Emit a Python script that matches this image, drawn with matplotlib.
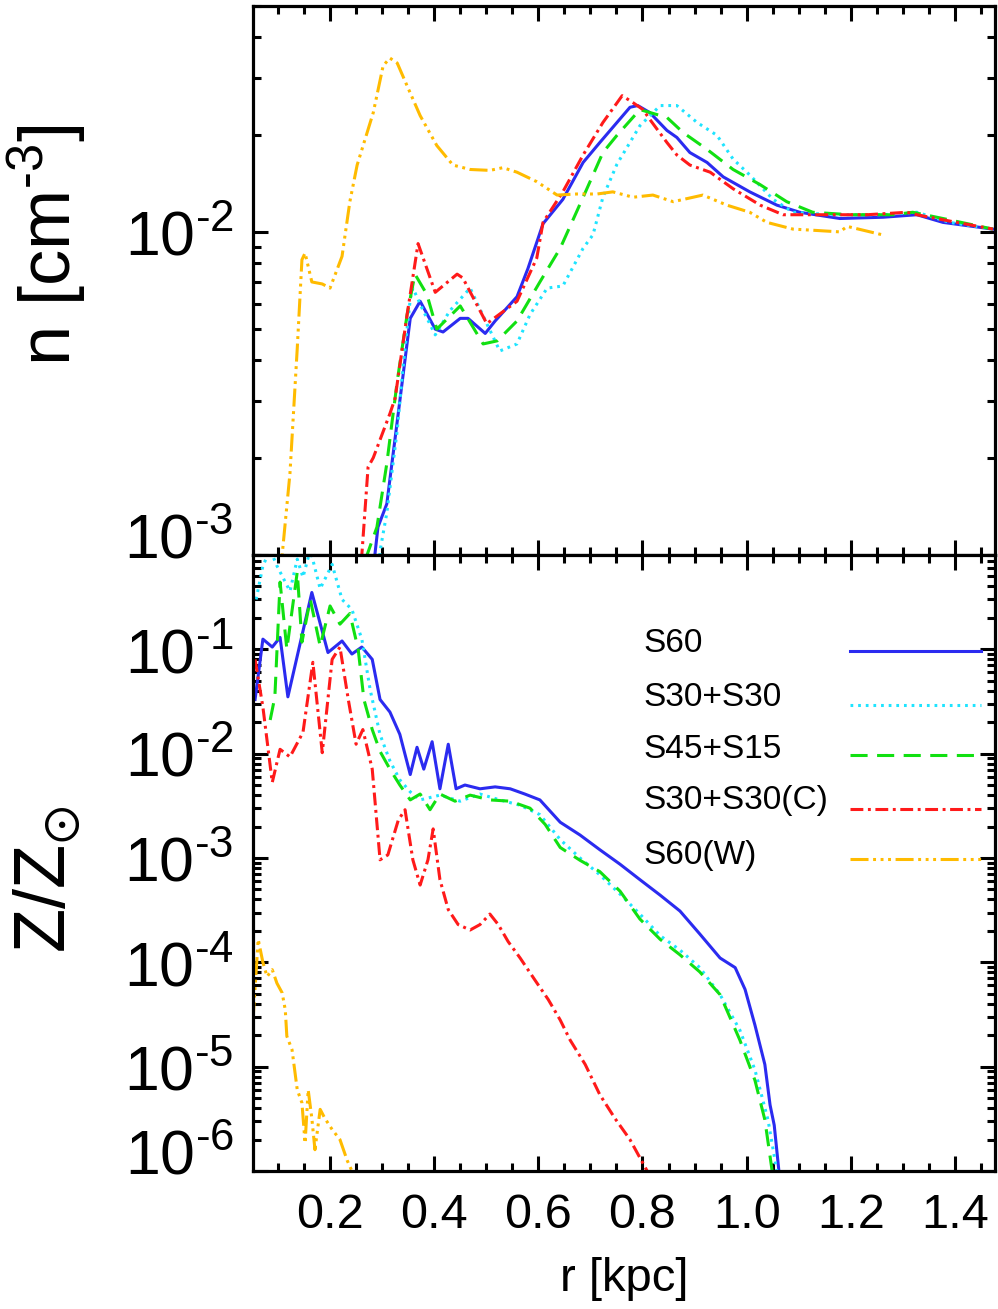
import numpy as np
import matplotlib
matplotlib.use('Agg')
import matplotlib.pyplot as plt
import matplotlib.transforms as mtransforms
from matplotlib.ticker import MultipleLocator, LogLocator, FuncFormatter, NullFormatter

plt.rcParams['font.family'] = ['Liberation Sans', 'DejaVu Sans']
plt.rcParams['mathtext.default'] = 'regular'

HY = '\u2010'  # short hyphen, like the original exponents

# ---- data ----
names = ['S60', 'S30+S30', 'S45+S15', 'S30+S30(C)', 'S60(W)']

# top panel: density profiles
r_n_s60 = [0.283, 0.286, 0.292, 0.309, 0.354, 0.373, 0.402, 0.417, 0.450, 0.465, 0.498, 0.517,
           0.559, 0.580, 0.609, 0.647, 0.686, 0.718, 0.776, 0.791, 0.814, 0.847, 0.866, 0.891,
           0.924, 0.955, 1.006, 1.058, 1.102, 1.179, 1.262, 1.327, 1.377, 1.473]
n_s60 = [8e-4, 1.0e-3, 1.22e-3, 1.44e-3, 5.4e-3, 6.1e-3, 5.0e-3, 4.9e-3, 5.4e-3, 5.4e-3, 4.85e-3, 5.3e-3,
         6.3e-3, 7.7e-3, 1.06e-2, 1.26e-2, 1.64e-2, 1.89e-2, 2.43e-2, 2.46e-2, 2.34e-2, 2.06e-2, 1.96e-2, 1.76e-2,
         1.64e-2, 1.48e-2, 1.33e-2, 1.21e-2, 1.15e-2, 1.10e-2, 1.11e-2, 1.13e-2, 1.07e-2, 1.02e-2]

r_n_s3030 = [0.292, 0.296, 0.309, 0.329, 0.340, 0.354, 0.359, 0.379, 0.402, 0.430, 0.469, 0.501, 0.526,
             0.559, 0.584, 0.617, 0.647, 0.686, 0.705, 0.724, 0.751, 0.795, 0.834, 0.866, 0.905, 0.943,
             0.974, 1.006, 1.051, 1.089, 1.166, 1.262, 1.327, 1.390, 1.473]
n_s3030 = [8e-4, 1.03e-3, 1.35e-3, 2.43e-3, 3.79e-3, 6.2e-3, 6.7e-3, 5.7e-3, 4.8e-3, 5.7e-3, 6.7e-3, 5.2e-3, 4.28e-3,
           4.5e-3, 5.55e-3, 6.7e-3, 6.8e-3, 8.9e-3, 9.8e-3, 1.28e-2, 1.62e-2, 2.13e-2, 2.46e-2, 2.46e-2, 2.18e-2, 1.99e-2,
           1.68e-2, 1.50e-2, 1.26e-2, 1.15e-2, 1.13e-2, 1.13e-2, 1.15e-2, 1.07e-2, 1.02e-2]

r_n_s4515 = [0.267, 0.271, 0.290, 0.309, 0.329, 0.348, 0.363, 0.386, 0.405, 0.450, 0.494, 0.521, 0.559,
             0.603, 0.642, 0.686, 0.724, 0.751, 0.795, 0.847, 0.878, 0.924, 0.974, 1.026, 1.077, 1.127,
             1.198, 1.281, 1.319, 1.377, 1.473]
n_s4515 = [8e-4, 1.0e-3, 1.22e-3, 1.92e-3, 3.45e-3, 5.55e-3, 7.4e-3, 6.4e-3, 5.0e-3, 5.9e-3, 4.5e-3, 4.6e-3, 5.3e-3,
           7.0e-3, 8.9e-3, 1.28e-2, 1.76e-2, 1.99e-2, 2.39e-2, 2.26e-2, 2.03e-2, 1.80e-2, 1.56e-2, 1.40e-2, 1.24e-2, 1.15e-2,
           1.13e-2, 1.13e-2, 1.15e-2, 1.10e-2, 1.02e-2]

r_n_s3030c = [0.258, 0.261, 0.273, 0.283, 0.315, 0.325, 0.348, 0.369, 0.402, 0.444, 0.455, 0.501, 0.559,
              0.597, 0.609, 0.647, 0.686, 0.724, 0.761, 0.782, 0.801, 0.814, 0.847, 0.866, 0.891, 0.930,
              0.974, 1.026, 1.070, 1.135, 1.231, 1.308, 1.327, 1.377, 1.473]
n_s3030c = [8e-4, 1.0e-3, 1.87e-3, 2.0e-3, 2.74e-3, 3.06e-3, 5.55e-3, 9.2e-3, 6.5e-3, 7.4e-3, 7.2e-3, 5.2e-3, 6.1e-3,
            8.3e-3, 1.07e-2, 1.33e-2, 1.73e-2, 2.18e-2, 2.64e-2, 2.51e-2, 2.39e-2, 2.23e-2, 1.89e-2, 1.73e-2, 1.61e-2, 1.53e-2,
            1.36e-2, 1.21e-2, 1.13e-2, 1.13e-2, 1.13e-2, 1.15e-2, 1.13e-2, 1.09e-2, 1.02e-2]

r_n_s60w = [0.105, 0.108, 0.123, 0.137, 0.146, 0.152, 0.165, 0.185, 0.200, 0.223, 0.238, 0.252, 0.283,
            0.302, 0.315, 0.329, 0.348, 0.373, 0.405, 0.436, 0.469, 0.507, 0.532, 0.559, 0.597, 0.636,
            0.674, 0.713, 0.743, 0.782, 0.820, 0.859, 0.916, 0.962, 1.006, 1.039, 1.089, 1.135, 1.179,
            1.193, 1.260]
n_s60w = [8e-4, 1.0e-3, 1.79e-3, 4.36e-3, 8.2e-3, 8.6e-3, 7.0e-3, 6.9e-3, 6.7e-3, 8.4e-3, 1.24e-2, 1.61e-2, 2.34e-2,
          3.27e-2, 3.45e-2, 3.33e-2, 2.83e-2, 2.29e-2, 1.85e-2, 1.61e-2, 1.56e-2, 1.55e-2, 1.58e-2, 1.53e-2, 1.43e-2, 1.30e-2,
          1.31e-2, 1.31e-2, 1.33e-2, 1.28e-2, 1.30e-2, 1.24e-2, 1.30e-2, 1.21e-2, 1.15e-2, 1.07e-2, 1.02e-2, 1.01e-2, 1.0e-2,
          1.04e-2, 9.8e-3]

# bottom panel: metallicity profiles
r_z_s60 = [0.056, 0.071, 0.089, 0.104, 0.119, 0.165, 0.196, 0.223, 0.242, 0.261, 0.281, 0.296, 0.315,
           0.334, 0.354, 0.367, 0.380, 0.396, 0.411, 0.427, 0.442, 0.459, 0.488, 0.517, 0.546, 0.574,
           0.603, 0.642, 0.680, 0.718, 0.757, 0.795, 0.834, 0.872, 0.910, 0.949, 0.978, 0.997, 1.016,
           1.035, 1.045, 1.053, 1.062, 1.066]
z_s60 = [0.033, 0.125, 0.105, 0.13, 0.035, 0.35, 0.093, 0.12, 0.09, 0.105, 0.08, 0.033, 0.025,
         0.0153, 0.0063, 0.0115, 0.0071, 0.013, 0.0046, 0.0123, 0.0046, 0.005, 0.0046, 0.0048, 0.0046, 0.0041,
         0.0036, 0.0022, 0.00166, 0.0012, 8.7e-4, 6.2e-4, 4.4e-4, 3.1e-4, 1.87e-4, 1.1e-4, 8.9e-5, 5.5e-5, 2.5e-5,
         1.05e-5, 4.3e-6, 2.75e-6, 1.0e-6, 7e-7]

r_z_s3030 = [0.058, 0.071, 0.085, 0.098, 0.123, 0.137, 0.148, 0.162, 0.181, 0.204, 0.223, 0.242, 0.261,
             0.277, 0.296, 0.315, 0.334, 0.354, 0.373, 0.411, 0.450, 0.488, 0.526, 0.565, 0.603, 0.642,
             0.680, 0.718, 0.757, 0.795, 0.834, 0.872, 0.910, 0.949, 0.987, 1.016, 1.041, 1.058, 1.062]
z_s3030 = [0.3, 0.63, 0.9, 0.63, 0.36, 0.73, 0.49, 0.9, 0.38, 0.65, 0.3, 0.24, 0.125,
           0.041, 0.0152, 0.0085, 0.0056, 0.0043, 0.0036, 0.004, 0.0035, 0.0041, 0.0036, 0.0032, 0.0026, 0.0015,
           0.001, 6.9e-4, 4.5e-4, 2.9e-4, 1.8e-4, 1.31e-4, 8.9e-5, 4.9e-5, 2.24e-5, 9.3e-6, 3.1e-6, 1.0e-6, 7e-7]

r_z_s4515 = [0.085, 0.094, 0.104, 0.117, 0.137, 0.146, 0.162, 0.181, 0.200, 0.219, 0.238, 0.254, 0.265,
             0.281, 0.296, 0.315, 0.334, 0.354, 0.373, 0.392, 0.411, 0.440, 0.469, 0.507, 0.546, 0.584,
             0.613, 0.642, 0.680, 0.718, 0.757, 0.795, 0.834, 0.872, 0.910, 0.949, 0.987, 1.016, 1.035,
             1.049, 1.052]
z_s4515 = [0.021, 0.035, 0.44, 0.1, 0.55, 0.117, 0.3, 0.107, 0.26, 0.174, 0.22, 0.1, 0.033,
           0.017, 0.0105, 0.0071, 0.005, 0.0036, 0.0041, 0.0029, 0.0041, 0.0035, 0.004, 0.0036, 0.0035, 0.003,
           0.0021, 0.00126, 9.5e-4, 7.4e-4, 4.8e-4, 2.6e-4, 1.66e-4, 1.18e-4, 8.1e-5, 4.9e-5, 1.8e-5, 7.4e-6, 3.1e-6,
           1.0e-6, 7e-7]

r_z_s3030c = [0.056, 0.071, 0.089, 0.104, 0.123, 0.148, 0.167, 0.185, 0.204, 0.219, 0.235, 0.250, 0.263,
              0.281, 0.296, 0.311, 0.331, 0.344, 0.359, 0.373, 0.388, 0.398, 0.411, 0.427, 0.446, 0.469,
              0.488, 0.507, 0.523, 0.542, 0.565, 0.594, 0.619, 0.642, 0.661, 0.690, 0.718, 0.747, 0.776,
              0.809, 0.812]
z_s3030c = [0.08, 0.028, 0.0053, 0.011, 0.0093, 0.016, 0.075, 0.0102, 0.08, 0.105, 0.033, 0.0123, 0.017,
            0.0071, 9.6e-4, 1.07e-3, 0.0023, 0.0029, 9.6e-4, 5.5e-4, 9.6e-4, 0.0019, 6.2e-4, 3.2e-4, 2.3e-4, 2.04e-4,
            2.3e-4, 2.9e-4, 2.3e-4, 1.58e-4, 1.1e-4, 6.7e-5, 4.4e-5, 2.8e-5, 1.8e-5, 1.05e-5, 5.4e-6, 3.2e-6, 2.0e-6,
            1.0e-6, 8e-7]

r_z_s60w = [0.052, 0.062, 0.071, 0.079, 0.089, 0.098, 0.108, 0.114, 0.117, 0.127, 0.137, 0.146, 0.152,
            0.158, 0.165, 0.171, 0.181, 0.190, 0.204, 0.219, 0.233, 0.242, 0.245]
z_s60w = [2.8e-5, 1.66e-4, 1.0e-4, 7.3e-5, 8.5e-5, 6.3e-5, 5.1e-5, 3.5e-5, 1.96e-5, 1.45e-5, 6e-6, 4.5e-6, 1.85e-6,
          6e-6, 3.2e-6, 1.6e-6, 3.9e-6, 3.2e-6, 2.5e-6, 2.0e-6, 1.26e-6, 1.0e-6, 8e-7]

top_curves = [(r_n_s60, n_s60), (r_n_s3030, n_s3030), (r_n_s4515, n_s4515),
              (r_n_s3030c, n_s3030c), (r_n_s60w, n_s60w)]
bot_curves = [(r_z_s60, z_s60), (r_z_s3030, z_s3030), (r_z_s4515, z_s4515),
              (r_z_s3030c, z_s3030c), (r_z_s60w, z_s60w)]

colors = ['#2b2bf0', '#1ee4ff', '#11e011', '#ff1a1a', '#ffbb00']
styles = ['-', (0, (0.9, 1.6)), (0, (5.6, 3.1)), (0, (4.2, 1.5, 0.95, 1.5)),
          (0, (5.9, 1.5, 0.95, 1.5, 0.95, 1.5, 0.95, 1.5))]
lw = 2.2

fig = plt.figure(figsize=(9.98, 13.09), dpi=100)
ax1 = fig.add_axes([0.2535, 0.5760, 0.7435, 0.4194])
ax2 = fig.add_axes([0.2535, 0.1054, 0.7435, 0.4706], sharex=ax1)

for (r, v), c, ls in zip(top_curves, colors, styles):
    ax1.plot(r, v, color=c, ls=ls, lw=lw)
for (r, v), c, ls in zip(bot_curves, colors, styles):
    ax2.plot(r, v, color=c, ls=ls, lw=lw)

ax1.set_yscale('log')
ax2.set_yscale('log')
ax1.set_xlim(0.052, 1.477)
ax1.set_ylim(1e-3, 0.05)
ax2.set_ylim(1e-6, 0.8)
ax1.set_yticks([1e-3, 1e-2])
ax2.set_yticks([1e-6, 1e-5, 1e-4, 1e-3, 1e-2, 1e-1])

sci = FuncFormatter(lambda v, p: '$10^{%s}$' % str(round(np.log10(v))).replace('-', HY))
for ax in (ax1, ax2):
    ax.yaxis.set_minor_locator(LogLocator(base=10, subs=np.arange(2, 10), numticks=30))
    ax.yaxis.set_major_formatter(sci)
    ax.yaxis.set_minor_formatter(NullFormatter())
    ax.xaxis.set_major_locator(MultipleLocator(0.2))
    ax.xaxis.set_minor_locator(MultipleLocator(0.05))
    ax.tick_params(which='both', direction='in', top=True, right=True, width=2.2)
    ax.tick_params(which='major', length=11)
    ax.tick_params(which='minor', length=5.5)
    ax.tick_params(axis='y', labelsize=45, pad=14)
    ax.tick_params(axis='x', labelsize=35, pad=16)
    for s in ax.spines.values():
        s.set_linewidth(2.3)

ax1.tick_params(labelbottom=False)
ax2.xaxis.set_major_formatter(FuncFormatter(lambda v, p: '%.1f' % v))

# lowest decade labels sit a bit above their tick
off = mtransforms.ScaledTranslation(0, 0.2, fig.dpi_scale_trans)
for ax in (ax1, ax2):
    t = ax.yaxis.get_major_ticks()[0]
    t.label1.set_transform(t.label1.get_transform() + off)

fig.text(47 / 998, 1 - 245 / 1309, 'n [cm$^{%s3}$]' % HY, rotation=90, fontsize=52,
         ha='center', va='center')
fig.text(47 / 998, 1 - 880 / 1309, r'Z/Z$_{\odot}$', rotation=90, fontsize=52,
         ha='center', va='center')
fig.text(624 / 998, 1 - 1279 / 1309, 'r [kpc]', fontsize=34, ha='center', va='center')

# legend drawn by hand, label left, line sample right
text_y = [0.857, 0.768, 0.685, 0.601, 0.513]
line_y = [0.844, 0.756, 0.675, 0.588, 0.506]
for name, c, ls, ty, ly in zip(names, colors, styles, text_y, line_y):
    ax2.text(0.5256, ty, name, transform=ax2.transAxes, fontsize=24, va='center')
    ax2.plot([0.8046, 0.981], [ly, ly], transform=ax2.transAxes, color=c, ls=ls, lw=lw)

fig.savefig('out.png', dpi=100)
